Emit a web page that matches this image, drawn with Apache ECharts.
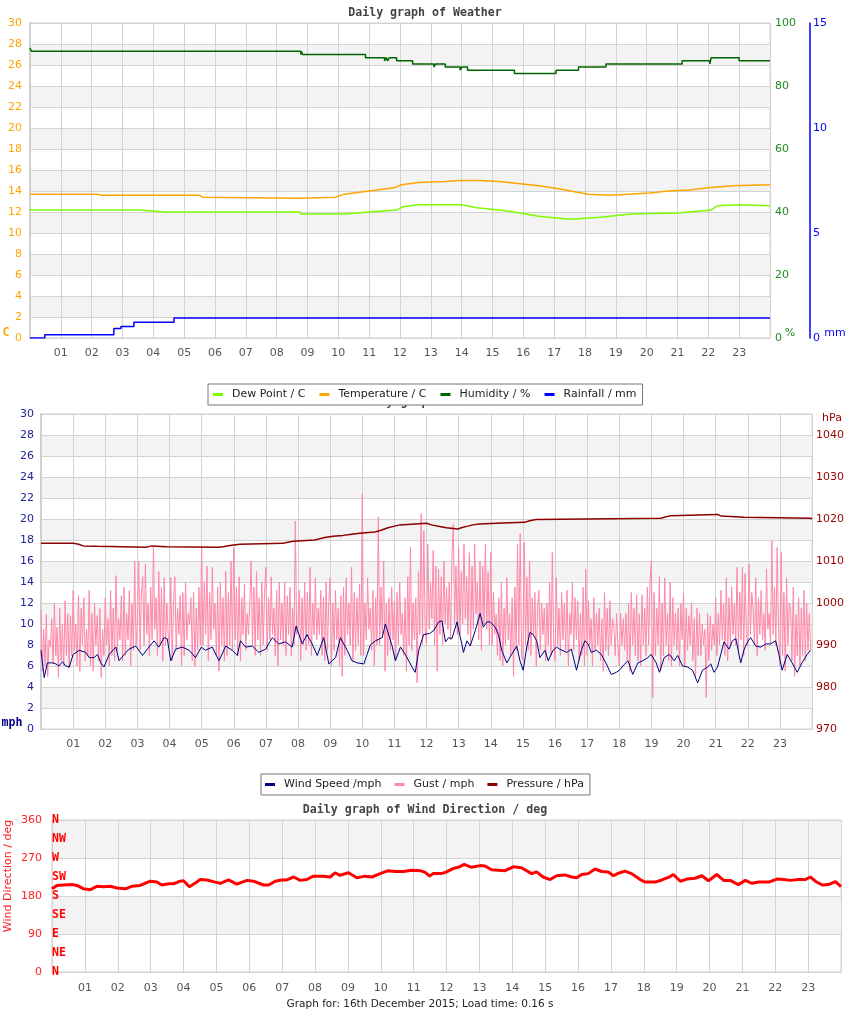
<!DOCTYPE html>
<html><head><meta charset="utf-8">
<script src="https://cdn.jsdelivr.net/npm/echarts@6/dist/echarts.min.js"></script>
<style>html,body{margin:0;padding:0;background:#fff}#c{width:850px;height:1017px}</style>
</head><body><div id="c"></div>
<script>
// ---------- DATA ----------
const hourLabels = ['01','02','03','04','05','06','07','08','09','10','11','12','13','14','15','16','17','18','19','20','21','22','23'];
const compassLabels = ['N','NE','E','SE','S','SW','W','NW','N'];

// [hour, value]
const dewPoint = [[0,12.2],[3.5,12.2],[4.4,12.0],[8.75,12.0],[8.8,11.8],[10.2,11.8],[11.0,12.0],[11.9,12.2],[12.1,12.5],[12.6,12.7],[14.0,12.7],[14.5,12.4],[15.5,12.1],[16.5,11.6],[17.5,11.3],[18.5,11.5],[19.5,11.8],[21.0,11.9],[22.1,12.2],[22.3,12.6],[23,12.7],[24,12.6]];
const temperature = [[0,13.7],[2.2,13.7],[2.3,13.6],[5.5,13.6],[5.6,13.4],[8.8,13.3],[9.9,13.4],[10.2,13.7],[11.0,14.0],[11.8,14.3],[12.05,14.6],[12.6,14.8],[13.45,14.9],[13.9,15.0],[14.6,15.0],[15.2,14.9],[15.9,14.7],[16.5,14.5],[17.2,14.2],[17.7,13.9],[18.1,13.7],[18.8,13.6],[19.4,13.7],[20.1,13.8],[20.7,14.0],[21.4,14.1],[22.0,14.3],[22.8,14.5],[24,14.6]];
const humidity = [[0,92],[0.05,91],[8.78,90],[8.8,91],[8.84,90],[10.88,89],[11.5,88],[11.55,89],[11.6,88],[11.65,89],[11.89,88],[12.41,87],[13.1,86],[13.15,87],[13.47,86],[13.95,85],[14.0,86],[14.19,85],[15.71,84],[17.06,85],[17.79,86],[18.68,87],[21.15,88],[22.05,87],[22.09,89],[23.0,88],[24,88]];
const rainfall = [[0,0],[0.48,0.15],[2.72,0.45],[2.95,0.55],[3.37,0.75],[4.67,0.95],[24,0.95]];

const windSpeed = [[0,7.5],[0.1,4.9],[0.2,6.3],[0.36,6.3],[0.46,6.2],[0.56,6.0],[0.67,6.4],[0.77,6.0],[0.88,5.9],[1.0,7.1],[1.19,7.5],[1.39,7.3],[1.5,6.8],[1.65,6.8],[1.76,7.1],[1.86,6.3],[1.96,5.9],[2.12,7.1],[2.33,7.8],[2.43,6.5],[2.59,7.1],[2.74,7.6],[2.95,7.9],[3.16,7.0],[3.36,7.8],[3.52,8.4],[3.67,7.8],[3.83,8.7],[3.93,8.6],[4.04,6.5],[4.19,7.6],[4.4,7.8],[4.61,7.5],[4.81,6.8],[4.99,7.8],[5.12,7.5],[5.33,7.8],[5.54,6.5],[5.75,7.9],[5.95,7.5],[6.11,7.0],[6.21,8.4],[6.37,7.8],[6.58,7.9],[6.78,7.3],[6.99,7.6],[7.2,8.7],[7.4,8.1],[7.61,8.3],[7.82,7.8],[7.94,9.8],[8.13,8.1],[8.28,9.0],[8.44,8.1],[8.6,7.0],[8.8,8.7],[8.96,6.2],[9.06,6.5],[9.17,6.8],[9.32,8.7],[9.53,7.5],[9.68,6.5],[9.84,6.3],[10.05,6.2],[10.15,7.1],[10.25,8.0],[10.41,8.4],[10.62,8.7],[10.72,10.0],[10.93,7.9],[11.03,6.5],[11.19,7.8],[11.34,7.1],[11.55,5.9],[11.65,5.4],[11.76,7.5],[11.91,9.0],[12.1,9.1],[12.23,9.4],[12.38,10.2],[12.48,10.3],[12.59,8.3],[12.69,8.7],[12.79,8.6],[12.95,10.2],[13.0,9.4],[13.1,8.1],[13.15,7.3],[13.26,8.4],[13.36,7.9],[13.52,9.4],[13.67,11.0],[13.77,9.7],[13.88,10.2],[13.98,10.2],[14.14,9.7],[14.24,9.0],[14.34,7.5],[14.5,6.3],[14.65,7.1],[14.81,7.9],[14.91,6.5],[15.01,5.6],[15.12,7.8],[15.22,9.2],[15.32,9.0],[15.43,8.4],[15.53,6.8],[15.69,7.5],[15.79,6.5],[15.94,7.5],[16.05,7.8],[16.15,7.6],[16.36,7.3],[16.51,7.6],[16.67,5.6],[16.82,7.5],[16.93,8.4],[17.03,8.1],[17.13,7.3],[17.29,7.5],[17.44,7.1],[17.6,6.2],[17.75,5.2],[17.91,5.4],[18.01,5.6],[18.11,6.0],[18.27,6.5],[18.42,5.2],[18.58,6.3],[18.73,6.5],[18.89,6.8],[18.99,7.1],[19.15,6.3],[19.25,5.4],[19.4,6.8],[19.56,7.1],[19.71,6.5],[19.82,7.0],[19.97,6.0],[20.13,5.9],[20.28,5.6],[20.44,4.4],[20.59,5.6],[20.75,5.9],[20.85,6.2],[20.95,5.4],[21.06,5.9],[21.16,7.1],[21.26,8.3],[21.42,7.6],[21.52,8.4],[21.63,8.6],[21.78,6.3],[21.88,7.5],[21.99,8.3],[22.09,8.7],[22.25,7.9],[22.4,7.8],[22.56,8.1],[22.71,8.1],[22.87,8.4],[22.97,7.1],[23.07,5.6],[23.23,7.1],[23.38,6.3],[23.54,5.4],[23.69,6.3],[23.85,7.1],[23.95,7.5]];

// gust every 2.5 minutes (24 per hour, one row per hour)
const gust = [
 11.3,5.5,9.5,6.0,10.9,5.0,8.5,7.8,10.5,6.2,12.0,7.0,9.7,4.9,11.5,6.5,10.0,6.0,12.2,7.0,11.0,5.8,10.8,7.0,
 13.2,7.5,10.0,6.0,12.7,5.5,11.5,8.0,12.5,6.5,9.5,7.0,13.2,6.0,11.0,5.5,12.0,8.0,10.8,6.5,11.5,4.9,9.5,7.0,
 12.5,8.0,10.5,6.0,13.2,7.0,11.5,6.5,14.6,7.5,10.5,8.5,12.7,6.5,13.5,7.0,11.0,8.5,13.2,6.0,12.0,7.5,16.0,8.0,
 10.0,16.0,7.5,13.0,14.5,8.0,15.7,9.0,12.0,7.0,13.5,8.5,17.3,9.5,12.5,7.0,15.0,8.0,13.5,6.5,14.4,8.0,12.0,9.0,
 8.0,14.4,6.5,12.0,14.5,7.5,11.5,9.0,12.7,6.0,13.0,7.0,14.0,8.5,11.0,10.0,12.5,6.5,13.0,6.0,11.5,7.5,13.5,8.0,
 17.3,8.0,14.0,9.0,15.5,6.5,13.0,8.5,15.4,9.5,12.0,7.0,13.5,5.5,14.0,8.0,12.5,6.5,15.0,7.0,13.0,8.0,16.0,7.5,
 17.3,8.5,13.5,7.0,14.5,6.5,12.5,9.0,13.8,7.5,11.0,9.0,12.0,16.0,8.0,13.5,7.0,15.0,8.5,12.5,7.0,14.0,8.0,13.0,
 15.4,7.5,12.5,8.5,14.5,9.0,11.5,7.0,13.2,6.0,14.0,8.5,12.0,8.0,14.0,7.0,12.7,9.0,13.5,7.0,11.5,8.0,19.8,9.0,
 10.0,13.2,6.5,12.5,8.0,14.0,7.5,13.0,8.0,15.4,7.0,12.0,9.0,14.4,8.5,11.5,9.0,13.2,7.0,12.5,6.5,14.0,7.5,12.0,
 14.4,6.0,12.0,7.5,13.2,8.5,11.5,6.0,12.7,5.0,13.5,7.0,14.4,9.0,12.0,8.0,15.4,6.5,13.0,7.5,12.5,8.0,13.8,7.0,
 22.4,7.0,12.0,8.5,14.4,9.5,11.5,7.5,13.2,6.0,12.5,8.0,20.2,8.0,13.5,9.0,16.0,5.5,12.0,7.0,12.5,7.5,13.5,8.5,
 12.2,6.5,13.0,8.0,14.0,9.0,11.0,7.0,12.5,5.5,14.5,8.0,17.3,7.5,12.0,8.5,12.5,4.4,15.0,9.0,20.5,8.0,18.9,9.5,
 8.0,17.6,9.5,14.0,10.5,17.0,8.0,15.5,5.5,15.2,9.0,14.5,8.0,16.0,10.0,13.5,9.5,14.0,8.5,16.5,19.5,10.0,15.5,9.0,
 17.3,9.0,15.0,10.0,17.6,10.5,14.5,9.0,16.8,8.0,15.5,9.5,17.6,11.0,14.0,8.5,16.0,7.5,15.5,10.0,17.6,9.5,15.0,8.0,
 16.8,8.0,13.0,9.0,10.9,7.0,12.5,6.5,14.0,6.0,11.5,8.0,14.4,8.5,11.0,7.0,12.5,5.0,13.5,7.5,17.6,8.0,18.6,7.0,
 6.5,17.8,8.0,14.5,7.5,16.0,7.0,12.5,9.0,13.0,6.0,11.5,13.2,7.5,12.0,9.0,11.5,6.5,12.0,8.0,14.0,7.0,16.8,8.5,
 6.5,14.4,8.0,11.5,7.0,13.0,8.5,12.0,7.5,13.2,6.0,11.0,9.0,14.0,7.5,12.5,8.5,12.2,6.5,11.0,7.0,13.5,6.0,15.2,
 7.0,12.2,8.0,10.5,6.0,12.5,7.5,11.0,8.0,11.5,6.5,10.5,5.5,13.0,7.5,11.5,7.0,12.2,8.0,10.5,9.7,7.0,11.0,8.0,
 6.0,11.0,8.0,10.5,7.5,11.0,6.5,12.0,5.5,13.0,8.0,11.5,7.0,12.8,6.5,11.0,6.0,12.8,8.0,11.5,7.0,13.5,8.0,14.0,
 16.0,3.0,13.0,7.0,11.5,8.0,14.5,5.5,12.0,7.0,14.4,8.0,11.0,6.5,14.0,6.0,12.5,8.0,11.0,7.5,11.5,6.0,12.0,8.5,
 13.0,6.0,11.5,7.5,10.8,8.0,12.0,6.5,10.5,5.0,11.5,7.0,11.0,7.0,10.0,8.0,9.5,3.0,11.0,6.5,10.8,7.5,10.0,8.0,
 12.5,7.0,11.0,8.0,13.2,8.5,12.0,7.0,14.4,6.5,12.5,8.0,13.5,9.0,12.0,8.0,15.4,7.5,13.0,8.5,15.4,7.0,14.8,9.0,
 8.0,15.7,9.0,13.0,11.5,8.0,14.4,7.0,12.5,9.0,13.2,8.5,11.0,7.5,15.2,9.5,11.0,8.0,17.9,9.0,13.5,8.0,17.3,9.5,
 6.0,16.8,7.0,13.0,5.5,14.4,8.0,12.0,11.5,6.5,13.5,5.0,10.9,7.0,12.5,6.0,11.5,7.0,13.2,6.5,12.0,7.5,11.0,7.5
];

const pressure = [[0,1014.2],[1.01,1014.0],[1.17,1013.6],[1.32,1013.5],[1.74,1013.3],[3.29,1013.6],[3.45,1013.7],[3.5,1013.4],[3.91,1013.3],[5.52,1013.4],[5.67,1013.7],[5.88,1014.0],[6.19,1014.2],[7.54,1014.4],[7.64,1014.7],[7.85,1015.0],[8.52,1015.3],[8.68,1015.6],[8.83,1015.9],[9.09,1016.1],[9.4,1016.3],[9.61,1016.6],[9.92,1016.9],[10.39,1017.2],[10.54,1017.5],[10.65,1017.9],[10.8,1018.3],[11.01,1018.6],[11.17,1019.0],[12.0,1018.6],[12.15,1018.2],[12.41,1017.9],[12.62,1017.6],[12.98,1017.9],[13.08,1018.3],[13.29,1018.6],[13.44,1018.8],[13.65,1019.0],[14.17,1019.2],[15.05,1019.6],[15.21,1019.9],[15.41,1020.2],[19.3,1020.4],[19.4,1020.8],[19.61,1021.1],[21.06,1020.7],[21.17,1020.4],[21.89,1020.2],[23.96,1020.0],[24,1020.0]];

const windDirection = [[0,197],[0.05,197],[0.15,205],[0.35,206],[0.61,207],[0.76,205],[0.96,197],[1.17,195],[1.37,203],[1.57,202],[1.77,203],[1.98,199],[2.23,197],[2.43,203],[2.68,205],[2.99,215],[3.19,213],[3.34,206],[3.55,209],[3.7,209],[3.9,215],[4.0,216],[4.18,202],[4.36,211],[4.51,219],[4.71,218],[4.91,214],[5.12,210],[5.37,218],[5.62,208],[5.93,217],[6.13,215],[6.43,206],[6.59,206],[6.79,215],[6.99,218],[7.14,218],[7.35,225],[7.55,217],[7.75,219],[7.95,227],[8.26,227],[8.46,225],[8.61,235],[8.76,229],[9.02,235],[9.27,223],[9.52,227],[9.73,225],[9.98,233],[10.23,240],[10.44,238],[10.69,238],[10.94,241],[11.2,240],[11.35,236],[11.49,227],[11.59,233],[11.85,233],[12.0,237],[12.2,245],[12.36,248],[12.54,255],[12.76,248],[13.02,252],[13.17,251],[13.37,242],[13.78,240],[14.03,249],[14.28,247],[14.59,233],[14.74,237],[14.94,225],[15.15,219],[15.35,228],[15.6,230],[15.81,225],[15.96,223],[16.11,231],[16.31,233],[16.52,244],[16.72,238],[16.92,237],[17.08,228],[17.23,234],[17.43,239],[17.63,233],[17.89,219],[18.04,213],[18.35,213],[18.55,218],[18.75,224],[18.9,231],[19.11,215],[19.31,220],[19.56,222],[19.77,228],[19.97,216],[20.22,231],[20.43,217],[20.63,217],[20.88,207],[21.09,217],[21.29,210],[21.49,213],[21.8,213],[22.05,220],[22.25,219],[22.46,217],[22.71,219],[22.91,219],[23.07,225],[23.22,215],[23.43,206],[23.62,207],[23.83,214],[24.0,202]];

// ---------- CHART ----------
const FONT = '"DejaVu Sans", sans-serif';
const MONO = '"DejaVu Sans Mono", monospace';
const GRID_C = '#d3d3d3';
const BAND = ['rgba(255,255,255,0)', '#f3f3f3'];

function xAxisFor(gi, margin) {
  return {
    type: 'value', gridIndex: gi, min: 0, max: 24, interval: 1,
    axisLine: { show: true, lineStyle: { color: GRID_C } },
    axisTick: { show: false },
    splitLine: { show: true, lineStyle: { color: GRID_C, width: 1 } },
    axisLabel: { color: '#555', fontSize: 11, fontFamily: FONT, margin: margin,
      formatter: v => (v > 0 && v < 24) ? hourLabels[v - 1] : '' }
  };
}

const gustData = gust.map((v, i) => [i / 24, v]);

const chart = echarts.init(document.getElementById('c'), null, { renderer: 'canvas' });
chart.setOption({
  animation: false,
  backgroundColor: '#fff',
  grid: [
    { left: 30, top: 23, width: 740, height: 315, show: true, borderColor: GRID_C, borderWidth: 1 },
    { left: 41, top: 414, width: 771, height: 315, show: true, borderColor: GRID_C, borderWidth: 1 },
    { left: 52, top: 820, width: 789, height: 152, show: true, borderColor: GRID_C, borderWidth: 1 }
  ],
  xAxis: [xAxisFor(0, 10), xAxisFor(1, 10), xAxisFor(2, 11)],
  yAxis: [
    { type: 'value', gridIndex: 0, position: 'left', min: 0, max: 30, interval: 2,
      axisLine: { show: true, lineStyle: { color: '#cfcfcf', width: 2 } }, axisTick: { show: false },
      splitLine: { show: true, lineStyle: { color: GRID_C } }, splitArea: { show: true, areaStyle: { color: BAND } },
      axisLabel: { color: '#ffa500', fontSize: 11, fontFamily: FONT, margin: 8 } },
    { type: 'value', gridIndex: 0, position: 'right', min: 0, max: 100, interval: 20,
      axisLine: { show: false }, axisTick: { show: false }, splitLine: { show: false },
      axisLabel: { color: '#228b22', fontSize: 11, fontFamily: FONT, margin: 5 } },
    { type: 'value', gridIndex: 0, position: 'right', offset: 40, min: 0, max: 15, interval: 5,
      axisLine: { show: true, lineStyle: { color: '#0000ff', width: 1.5 } }, axisTick: { show: false }, splitLine: { show: false },
      axisLabel: { color: '#0000ff', fontSize: 11, fontFamily: FONT, margin: 3 } },
    { type: 'value', gridIndex: 1, position: 'left', min: 0, max: 30, interval: 2,
      axisLine: { show: true, lineStyle: { color: '#cfcfcf', width: 2 } }, axisTick: { show: false },
      splitLine: { show: true, lineStyle: { color: GRID_C } }, splitArea: { show: true, areaStyle: { color: BAND } },
      axisLabel: { color: '#22229a', fontSize: 11, fontFamily: FONT, margin: 7 } },
    { type: 'value', gridIndex: 1, position: 'right', min: 970, max: 1045, interval: 10,
      axisLine: { show: false }, axisTick: { show: false },
      splitLine: { show: false },
      axisLabel: { color: '#990000', fontSize: 11, fontFamily: FONT, margin: 4, showMaxLabel: false,
        formatter: v => (v % 10 === 0) ? String(v) : '' } },
    { type: 'value', gridIndex: 2, position: 'left', min: 0, max: 360, interval: 90,
      axisLine: { show: false }, axisTick: { show: false },
      splitLine: { show: true, lineStyle: { color: GRID_C } }, splitArea: { show: true, areaStyle: { color: BAND } },
      axisLabel: { color: '#ff2020', fontSize: 11, fontFamily: FONT, margin: 10 } },
    { type: 'value', gridIndex: 2, position: 'left', min: 0, max: 360, interval: 45,
      axisLine: { show: false }, axisTick: { show: false }, splitLine: { show: false },
      axisLabel: { inside: true, margin: 0, color: '#ff0000', fontSize: 11.6, fontWeight: 'bold', fontFamily: MONO,
        padding: [0, 0, 4, 0], formatter: v => compassLabels[Math.round(v / 45)] } }
  ],
  legend: [
    { left: 208, top: 384, orient: 'horizontal', z: 10, backgroundColor: '#fff', borderColor: '#777', borderWidth: 1,
      padding: [5, 6, 5, 5], itemGap: 14, itemWidth: 10, itemHeight: 3, icon: 'rect',
      textStyle: { fontSize: 11, fontFamily: FONT, color: '#222', padding: [0, 0, 0, 4] },
      data: ['Dew Point / C', 'Temperature / C', 'Humidity / %', 'Rainfall / mm'] },
    { left: 261, top: 774, orient: 'horizontal', z: 10, backgroundColor: '#fff', borderColor: '#777', borderWidth: 1,
      padding: [5, 6, 5, 4], itemGap: 13, itemWidth: 10, itemHeight: 3, icon: 'rect',
      textStyle: { fontSize: 11, fontFamily: FONT, color: '#222', padding: [0, 0, 0, 4] },
      data: ['Wind Speed /mph', 'Gust / mph', 'Pressure / hPa'] }
  ],
  graphic: [
    { type: 'text', x: 425, y: 13, z: 1, style: { text: 'Daily graph of Weather', fill: '#444', font: 'bold 11.6px "DejaVu Sans Mono"', align: 'center', verticalAlign: 'middle' } },
    { type: 'text', x: 425, y: 402, z: 1, style: { text: 'Daily graph of Wind', fill: '#444', font: 'bold 11.6px "DejaVu Sans Mono"', align: 'center', verticalAlign: 'middle' } },
    { type: 'text', x: 425, y: 810, z: 1, style: { text: 'Daily graph of Wind Direction / deg', fill: '#444', font: 'bold 11.6px "DejaVu Sans Mono"', align: 'center', verticalAlign: 'middle' } },
    { type: 'text', x: 6, y: 333, style: { text: 'C', fill: '#ffa500', font: 'bold 11.6px "DejaVu Sans Mono"', align: 'center', verticalAlign: 'middle' } },
    { type: 'text', x: 790, y: 333, style: { text: '%', fill: '#228b22', font: '11px "DejaVu Sans"', align: 'center', verticalAlign: 'middle' } },
    { type: 'text', x: 835, y: 333, style: { text: 'mm', fill: '#0000ff', font: '11px "DejaVu Sans"', align: 'center', verticalAlign: 'middle' } },
    { type: 'text', x: 832, y: 418, style: { text: 'hPa', fill: '#990000', font: '11px "DejaVu Sans"', align: 'center', verticalAlign: 'middle' } },
    { type: 'text', x: 12, y: 723, style: { text: 'mph', fill: '#000080', font: 'bold 11.6px "DejaVu Sans Mono"', align: 'center', verticalAlign: 'middle' } },
    { type: 'text', x: 8, y: 876, rotation: Math.PI / 2, style: { text: 'Wind Direction / deg', fill: '#ff2020', font: '11px "DejaVu Sans"', align: 'center', verticalAlign: 'middle' } },
    { type: 'text', x: 420, y: 1004, style: { text: 'Graph for: 16th December 2015; Load time: 0.16 s', fill: '#222', font: '10.5px "DejaVu Sans"', align: 'center', verticalAlign: 'middle' } }
  ],
  series: [
    { name: 'Dew Point / C', type: 'line', xAxisIndex: 0, yAxisIndex: 0, data: dewPoint, showSymbol: false, color: '#7cfc00', lineStyle: { width: 1.5, color: '#7cfc00' } },
    { name: 'Temperature / C', type: 'line', xAxisIndex: 0, yAxisIndex: 0, data: temperature, showSymbol: false, color: '#ffa500', lineStyle: { width: 1.5, color: '#ffa500' } },
    { name: 'Humidity / %', type: 'line', xAxisIndex: 0, yAxisIndex: 1, data: humidity, step: 'end', showSymbol: false, color: '#006400', lineStyle: { width: 1.5, color: '#006400' } },
    { name: 'Rainfall / mm', type: 'line', xAxisIndex: 0, yAxisIndex: 2, data: rainfall, step: 'end', showSymbol: false, color: '#0000ff', lineStyle: { width: 1.5, color: '#0000ff' } },
    { name: 'Gust / mph', type: 'line', xAxisIndex: 1, yAxisIndex: 3, data: gustData, showSymbol: false, color: '#ff88aa', lineStyle: { width: 1, color: '#ff88aa' } },
    { name: 'Wind Speed /mph', type: 'line', xAxisIndex: 1, yAxisIndex: 3, data: windSpeed, showSymbol: false, color: '#000080', lineStyle: { width: 1, color: '#000080' } },
    { name: 'Pressure / hPa', type: 'line', xAxisIndex: 1, yAxisIndex: 4, data: pressure, step: 'end', showSymbol: false, color: '#8b0000', lineStyle: { width: 1.5, color: '#8b0000' } },
    { name: 'Wind Direction', type: 'line', xAxisIndex: 2, yAxisIndex: 5, data: windDirection, showSymbol: false, color: '#ff0000', lineStyle: { width: 3, color: '#ff0000' } }
  ]
});
</script>
</body></html>
